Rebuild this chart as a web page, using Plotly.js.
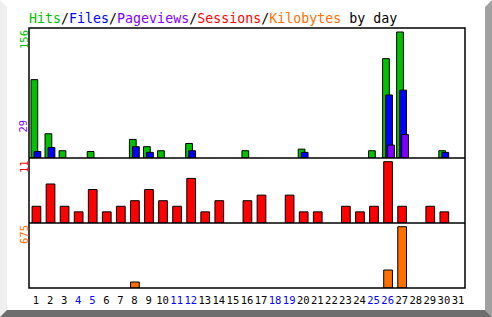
<!DOCTYPE html>
<html><head><meta charset="utf-8">
<script src="https://cdn.plot.ly/plotly-3.0.1.min.js"></script>
<style>html,body{margin:0;padding:0;background:#fff}#c{width:492px;height:317px}</style>
</head><body><div id="c"></div>
<script>
const days = [1,2,3,4,5,6,7,8,9,10,11,12,13,14,15,16,17,18,19,20,21,22,23,24,25,26,27,28,29,30,31];
const weekendDays = [4,5,11,12,18,19,25,26];
const hits =      [97,30,9,null,8,null,null,23,14,9,null,18,null,null,null,9,null,null,null,11,null,null,null,null,9,123,156,null,null,9,null];
const files =     [8,13,null,null,null,null,null,14,7,null,null,9,null,null,null,null,null,null,null,7,null,null,null,null,null,78,84,null,null,7,null];
const pageviews = [null,null,null,null,null,null,null,null,null,null,null,null,null,null,null,null,null,null,null,null,null,null,null,null,null,16,29,null,null,null,null];
const sessions =  [3,7,3,2,6,2,3,4,6,4,3,8,2,4,null,4,5,null,5,2,2,null,3,2,3,11,3,null,3,2,null];
const kbytes =    [null,null,null,null,null,null,null,66,null,null,null,null,null,null,null,null,null,null,null,null,null,null,null,null,null,198,675,null,null,null,null];
const maxHits = 156, maxPages = 29, maxSessions = 11, maxKb = 675;

const C = {hits:'#00c000', files:'#0000ff', pages:'#8000ff', sess:'#ff0000', kb:'#ff7000'};
const L = 29, R = 465, T = 28, B = 288;
const px = x => (x - L) / (R - L);
const py = y => (B - y) / (B - T);
const line = {color:'#000', width:1};

const traces = [
  {x:days, y:hits, type:'bar', marker:{color:C.hits, line}, width:0.48, offset:-0.36, xaxis:'x', yaxis:'y'},
  {x:days, y:files, type:'bar', marker:{color:C.files, line}, width:0.48, offset:-0.14, xaxis:'x', yaxis:'y'},
  {x:days, y:pageviews, type:'bar', marker:{color:C.pages, line}, width:0.48, offset:0.0, xaxis:'x', yaxis:'y'},
  {x:days, y:sessions, type:'bar', marker:{color:C.sess, line}, width:0.62, offset:-0.28, xaxis:'x', yaxis:'y2'},
  {x:days, y:kbytes, type:'bar', marker:{color:C.kb, line}, width:0.62, offset:-0.28, xaxis:'x', yaxis:'y3'}
];

const mono = 'DejaVu Sans Mono';
const ticktext = days.map(d => weekendDays.includes(d) ? '<span style="color:#0000ff">'+d+'</span>' : String(d));

function poly(pts, color){
  return {type:'path', xref:'paper', yref:'paper', layer:'above',
    path:'M'+pts.map(p=>px(p[0])+','+py(p[1])).join('L')+'Z',
    fillcolor:color, line:{width:0}};
}

const layout = {
  width:492, height:317,
  margin:{l:L, r:492-R, t:T, b:317-B, pad:0},
  paper_bgcolor:'#fff', plot_bgcolor:'#fff',
  showlegend:false, barmode:'overlay', bargap:0,
  title:{
    text:'<span style="color:'+C.hits+'">Hits</span>/<span style="color:'+C.files+'">Files</span>/<span style="color:'+C.pages+'">Pageviews</span>/<span style="color:'+C.sess+'">Sessions</span>/<span style="color:'+C.kb+'">Kilobytes</span> by day',
    font:{family:mono, size:13.3, color:'#000'},
    xref:'paper', x:0, xanchor:'left', yref:'container', y:1-18.5/317, yanchor:'middle'
  },
  xaxis:{range:[0.5,31.5], tickmode:'array', tickvals:days, ticktext:ticktext, ticks:'', tickangle:0, showgrid:false, zeroline:false, showline:false,
         tickfont:{family:mono, size:10.5, color:'#000'}, anchor:'y3', fixedrange:true, ticklabelstandoff:4},
  yaxis:{domain:[0.5,1], range:[0, maxHits*130/126], showticklabels:false, showgrid:false, zeroline:false, ticks:'', anchor:'x'},
  yaxis2:{domain:[0.25,0.5], range:[0, maxSessions*65/61.3], showticklabels:false, showgrid:false, zeroline:false, ticks:'', anchor:'x'},
  yaxis3:{domain:[0,0.25], range:[0, maxKb*65/61.3], showticklabels:false, showgrid:false, zeroline:false, ticks:'', anchor:'x'},
  shapes:[
    {type:'rect', xref:'paper', yref:'paper', x0:0, x1:1, y0:0, y1:1, line:{color:'#000', width:1.5}},
    {type:'line', xref:'paper', yref:'paper', x0:0, x1:1, y0:0.5, y1:0.5, line:{color:'#000', width:1.5}},
    {type:'line', xref:'paper', yref:'paper', x0:0, x1:1, y0:0.25, y1:0.25, line:{color:'#000', width:1.5}},
    poly([[0,0],[7,7],[7,310],[0,317]], '#efefef'),
    poly([[485,7],[492,0],[492,317],[485,310]], '#a0a0a0'),
    poly([[7,310],[485,310],[492,317],[0,317]], '#6e6e6e')
  ],
  annotations:[
    {text:String(maxHits), xref:'paper', x:px(23.5), yref:'paper', y:1, xanchor:'center', yanchor:'top', textangle:-90, showarrow:false, font:{family:mono, size:10.5, color:C.hits}},
    {text:String(maxPages), xref:'paper', x:px(23.5), yref:'y', y:maxPages, xanchor:'center', yanchor:'bottom', textangle:-90, showarrow:false, font:{family:mono, size:10.5, color:C.pages}},
    {text:String(maxSessions), xref:'paper', x:px(23.5), yref:'paper', y:0.5, xanchor:'center', yanchor:'top', textangle:-90, showarrow:false, font:{family:mono, size:10.5, color:C.sess}},
    {text:String(maxKb), xref:'paper', x:px(23.5), yref:'paper', y:0.25, xanchor:'center', yanchor:'top', textangle:-90, showarrow:false, font:{family:mono, size:10.5, color:C.kb}}
  ]
};
Plotly.newPlot('c', traces, layout, {staticPlot:true, displayModeBar:false});
</script></body></html>
